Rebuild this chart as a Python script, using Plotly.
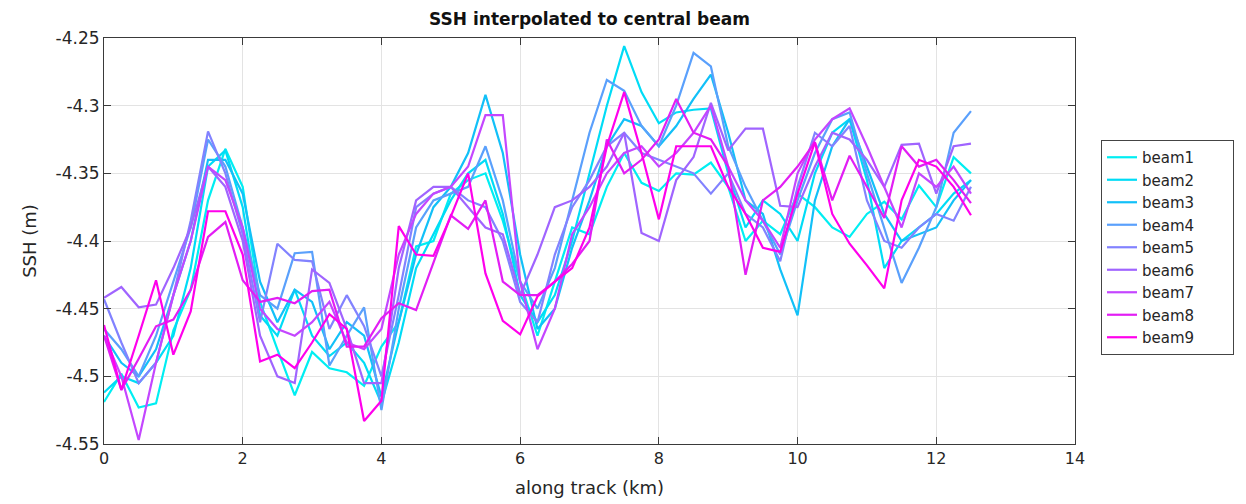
import plotly.graph_objects as go

# along-track distance (km), 0.25 km spacing
along_km = [i * 0.25 for i in range(51)]

beam1 = [-4.519, -4.498, -4.523, -4.520, -4.466, -4.436, -4.370, -4.332, -4.360, -4.445,
         -4.480, -4.514, -4.482, -4.494, -4.497, -4.507, -4.478, -4.460, -4.404, -4.400,
         -4.365, -4.355, -4.350, -4.385, -4.430, -4.470, -4.430, -4.390, -4.395, -4.360,
         -4.335, -4.357, -4.363, -4.350, -4.351, -4.342, -4.360, -4.400, -4.385, -4.395,
         -4.365, -4.375, -4.390, -4.397, -4.380, -4.371, -4.384, -4.359, -4.375, -4.338,
         -4.350]
beam2 = [-4.512, -4.500, -4.505, -4.490, -4.470, -4.420, -4.345, -4.333, -4.375, -4.455,
         -4.470, -4.436, -4.470, -4.485, -4.475, -4.490, -4.520, -4.475, -4.420, -4.395,
         -4.370, -4.350, -4.340, -4.380, -4.440, -4.460, -4.440, -4.400, -4.350, -4.300,
         -4.256, -4.290, -4.313, -4.305, -4.303, -4.302, -4.350, -4.390, -4.370, -4.380,
         -4.400, -4.350, -4.320, -4.310, -4.355, -4.420, -4.400, -4.390, -4.380, -4.365,
         -4.355]
beam3 = [-4.470, -4.490, -4.500, -4.480, -4.440, -4.400, -4.340, -4.340, -4.365, -4.430,
         -4.460, -4.436, -4.445, -4.480, -4.460, -4.470, -4.515, -4.460, -4.410, -4.375,
         -4.360, -4.335, -4.292, -4.335, -4.410, -4.465, -4.450, -4.405, -4.370, -4.330,
         -4.310, -4.315, -4.330, -4.315, -4.295, -4.277, -4.320, -4.370, -4.380, -4.421,
         -4.455, -4.370, -4.330, -4.310, -4.345, -4.380, -4.400, -4.395, -4.390, -4.370,
         -4.355]
beam4 = [-4.465, -4.480, -4.500, -4.470, -4.430, -4.390, -4.325, -4.345, -4.390, -4.440,
         -4.450, -4.409, -4.408, -4.492, -4.470, -4.449, -4.525, -4.450, -4.390, -4.370,
         -4.365, -4.360, -4.330, -4.370, -4.430, -4.450, -4.420, -4.370, -4.320, -4.281,
         -4.289, -4.315, -4.330, -4.300, -4.261, -4.271, -4.330, -4.360, -4.385, -4.410,
         -4.370, -4.335, -4.310, -4.305, -4.350, -4.390, -4.431, -4.405, -4.375, -4.320,
         -4.304]
beam5 = [-4.443, -4.475, -4.505, -4.490, -4.440, -4.385, -4.319, -4.350, -4.395, -4.460,
         -4.402, -4.414, -4.415, -4.465, -4.440, -4.463, -4.500, -4.440, -4.375, -4.365,
         -4.360, -4.370, -4.375, -4.400, -4.445, -4.460, -4.410, -4.375, -4.355, -4.330,
         -4.320, -4.335, -4.340, -4.345, -4.350, -4.365, -4.350, -4.380, -4.390, -4.415,
         -4.360, -4.320, -4.330, -4.315, -4.370, -4.400, -4.405, -4.390, -4.380, -4.385,
         -4.360]
beam6 = [-4.442, -4.434, -4.449, -4.447, -4.420, -4.390, -4.345, -4.360, -4.400, -4.470,
         -4.500, -4.505, -4.421, -4.431, -4.465, -4.505, -4.505, -4.420, -4.370, -4.360,
         -4.360, -4.375, -4.390, -4.395, -4.440, -4.410, -4.375, -4.370, -4.360, -4.345,
         -4.320, -4.394, -4.400, -4.355, -4.338, -4.298, -4.333, -4.317, -4.317, -4.374,
         -4.375, -4.345, -4.320, -4.325, -4.340, -4.360, -4.329, -4.328, -4.365, -4.330,
         -4.328]
beam7 = [-4.470, -4.500, -4.547, -4.490, -4.440, -4.400, -4.345, -4.355, -4.390, -4.450,
         -4.465, -4.470, -4.460, -4.445, -4.475, -4.480, -4.465, -4.410, -4.380, -4.365,
         -4.360, -4.345, -4.307, -4.307, -4.430, -4.480, -4.450, -4.395, -4.375, -4.350,
         -4.335, -4.330, -4.345, -4.335, -4.320, -4.300, -4.345, -4.370, -4.385, -4.405,
         -4.350, -4.325, -4.310, -4.302, -4.330, -4.360, -4.390, -4.350, -4.360, -4.345,
         -4.365]
beam8 = [-4.470, -4.510, -4.487, -4.463, -4.458, -4.436, -4.397, -4.386, -4.429, -4.445,
         -4.442, -4.446, -4.437, -4.436, -4.478, -4.478, -4.457, -4.446, -4.451, -4.416,
         -4.381, -4.391, -4.370, -4.430, -4.440, -4.440, -4.430, -4.417, -4.400, -4.325,
         -4.350, -4.340, -4.325, -4.295, -4.320, -4.325, -4.345, -4.425, -4.370, -4.360,
         -4.345, -4.327, -4.370, -4.337, -4.360, -4.383, -4.330, -4.345, -4.340, -4.355,
         -4.372]
beam9 = [-4.462, -4.510, -4.470, -4.429, -4.484, -4.452, -4.378, -4.378, -4.410, -4.489,
         -4.484, -4.494, -4.475, -4.454, -4.465, -4.533, -4.518, -4.389, -4.410, -4.411,
         -4.382, -4.350, -4.424, -4.459, -4.469, -4.441, -4.430, -4.420, -4.390, -4.330,
         -4.290, -4.335, -4.384, -4.330, -4.330, -4.330, -4.360, -4.380, -4.405, -4.408,
         -4.365, -4.327, -4.380, -4.402, -4.418, -4.435, -4.370, -4.340, -4.345, -4.360,
         -4.381]

beam_names = ["beam1", "beam2", "beam3", "beam4", "beam5", "beam6", "beam7", "beam8", "beam9"]
beam_values = [beam1, beam2, beam3, beam4, beam5, beam6, beam7, beam8, beam9]
# cool colormap, cyan -> magenta
beam_colors = ["#00eef2", "#00dcf6", "#12c0f8", "#5aa0fc", "#8282ff",
               "#a064ff", "#c446ff", "#e21ef4", "#ff00ec"]

y_ticks = [-4.55, -4.5, -4.45, -4.4, -4.35, -4.3, -4.25]
y_ticktext = ["-4.55", "-4.5", "-4.45", "-4.4", "-4.35", "-4.3", "-4.25"]
x_ticks = [0, 2, 4, 6, 8, 10, 12, 14]

# non-breaking padding widens the legend box on the right
legend_pad = "\u00a0" * 7

fig = go.Figure()
for name, vals, col in zip(beam_names, beam_values, beam_colors):
    fig.add_trace(go.Scatter(x=along_km, y=vals, mode="lines", name=name + legend_pad,
                             line=dict(color=col, width=2.2)))

font_family = "DejaVu Sans"
axis_color = "#3a3a3a"
fig.update_layout(
    width=1246, height=504,
    margin=dict(l=104, r=171, t=38, b=60, autoexpand=False),
    paper_bgcolor="white", plot_bgcolor="white",
    font=dict(family=font_family, size=16, color="#262626"),
    title=dict(text="<b>SSH interpolated to central beam</b>",
               x=(104 + 1075) / 2 / 1246, xanchor="center",
               y=1 - 19 / 504, yanchor="middle",
               font=dict(family=font_family, size=17, color="#111111")),
    showlegend=True,
    legend=dict(x=(1101 - 104) / 971, xanchor="left",
                y=(444 - 140) / 406, yanchor="top",
                bordercolor="#444444", borderwidth=1, bgcolor="white",
                font=dict(family=font_family, size=15, color="#262626"),
                tracegroupgap=0),
)
fig.update_xaxes(range=[0, 14], tickvals=x_ticks,
                 ticks="inside", ticklen=7, tickcolor=axis_color,
                 showline=True, linecolor=axis_color, linewidth=1, mirror="ticks",
                 showgrid=True, gridcolor="#e3e3e3", gridwidth=1, zeroline=False,
                 tickfont=dict(size=16, color="#262626"),
                 title=dict(text="along track (km)", font=dict(size=18, color="#262626"),
                            standoff=14))
fig.update_yaxes(range=[-4.55, -4.25], tickvals=y_ticks, ticktext=y_ticktext,
                 ticks="inside", ticklen=7, tickcolor=axis_color,
                 showline=True, linecolor=axis_color, linewidth=1, mirror="ticks",
                 showgrid=True, gridcolor="#e3e3e3", gridwidth=1, zeroline=False,
                 tickfont=dict(size=17, color="#262626"),
                 title=dict(text="SSH (m)", font=dict(size=18, color="#262626"),
                            standoff=14))

fig.write_html("out.html")
